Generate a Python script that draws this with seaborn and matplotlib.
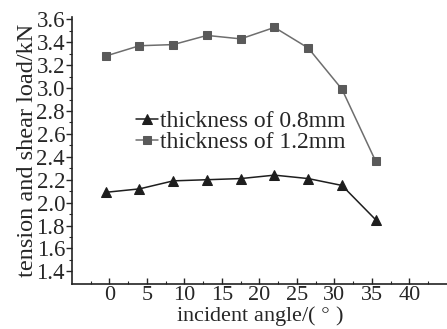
import pandas as pd
import matplotlib.pyplot as plt
import seaborn as sns

# values
angle = [-0.5, 4, 8.5, 13, 17.5, 22, 26.5, 31, 35.5]
load_08 = [2.09, 2.12, 2.19, 2.20, 2.21, 2.24, 2.21, 2.15, 1.85]
load_12 = [3.28, 3.37, 3.38, 3.46, 3.43, 3.53, 3.35, 2.99, 2.36]
xticks = [0, 5, 10, 15, 20, 25, 30, 35, 40]
yticks = [1.4, 1.6, 1.8, 2.0, 2.2, 2.4, 2.6, 2.8, 3.0, 3.2, 3.4, 3.6]

sns.set_style('ticks')
plt.rcParams['font.family'] = ['Liberation Serif', 'DejaVu Serif']
plt.rcParams['mathtext.fontset'] = 'stix'

df = pd.DataFrame({'angle': angle, 'a': load_08, 'b': load_12})

fig = plt.figure(figsize=(4.47, 3.29), dpi=100)
ax = fig.add_axes([0.161, 0.137, 0.839, 0.811])

sns.lineplot(data=df, x='angle', y='a', ax=ax, color='#1e1e1e', marker='^',
             markersize=7, markeredgecolor='#1e1e1e', linewidth=1.1,
             label='thickness of 0.8mm')
sns.lineplot(data=df, x='angle', y='b', ax=ax, color='#6e6e6e', marker='s',
             markersize=5.5, markerfacecolor='#5a5a5a', markeredgecolor='#5a5a5a',
             linewidth=1.1, label='thickness of 1.2mm')

ax.set_xlim(-5, 45)
ax.set_ylim(1.29, 3.62)
ax.set_xticks(xticks)
ax.set_yticks(yticks)
ax.set_yticklabels([f'{v:.1f}' for v in yticks])
ax.set_xticks([x + 2.5 for x in [-5] + xticks], minor=True)
ax.set_yticks([v + 0.1 for v in [1.3] + yticks[:-1]], minor=True)
ax.tick_params(axis='x', which='both', direction='in', labelsize=16, pad=1.5)
ax.tick_params(axis='y', which='both', direction='out', labelsize=16.5, pad=1)
ax.tick_params(which='major', length=4, width=1)
ax.tick_params(which='minor', length=2.5, width=0.8)

sns.despine(ax=ax)
for s in ['left', 'bottom']:
    ax.spines[s].set_color('#222222')
    ax.spines[s].set_linewidth(1.2)

ax.set_xlabel('incident angle/( $\\degree$ )', fontsize=16, labelpad=-1)
ax.set_ylabel('tension and shear load/kN', fontsize=17.5, labelpad=-1)

ax.legend(loc='center left', bbox_to_anchor=(0.172, 0.57), frameon=False,
          fontsize=17, handlelength=0.9, handletextpad=0.1, labelspacing=-0.05,
          borderaxespad=0, borderpad=0)

fig.savefig('out.png', dpi=100)
